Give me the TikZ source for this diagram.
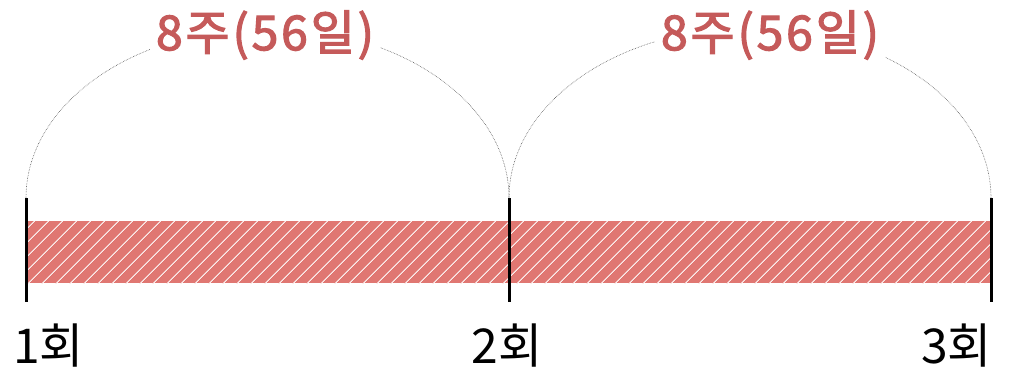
\documentclass[tikz,border=0pt]{standalone}
\usepackage{fontspec}
\newfontfamily\kr{Noto Sans CJK KR}
\newfontfamily\krmid[FakeBold=2.5, LetterSpace=6]{Noto Sans CJK KR}
\usepackage{tikz}
\usetikzlibrary{patterns.meta}
\definecolor{barred}{HTML}{E07772}
\definecolor{gapred}{HTML}{C55A5A}
\definecolor{spangray}{HTML}{555555}

\begin{document}
\begin{tikzpicture}[
  x=1pt, y=-1pt,
  tick/.style={line width=3pt, black},
  span/.style={densely dotted, line width=0.6pt, spangray},
  gap/.style={font=\krmid\fontsize{48}{48}\selectfont, text=gapred,
    fill=white, inner sep=6pt},
  dose/.style={font=\kr\fontsize{48}{48}\selectfont, inner sep=0pt},
  bar/.style={fill=barred, minimum width=965pt, minimum height=62pt,
    inner sep=0pt, postaction={pattern={Lines[angle=45, distance=10.5pt,
    line width=1.1pt]}, pattern color=white!85!barred}}
]
  \useasboundingbox (0,0) rectangle (1016,370);

  % Hatched interval bar
  \node[bar] (bar) at (508.5,252) {};

  % Dose ticks
  \foreach \x [count=\i] in {26,509,991} {
    \coordinate (t\i) at (\x,198);
    \coordinate (b\i) at (\x,302);
    \draw[tick] (t\i) -- (b\i);
  }

  % Interval arcs
  \draw[span] (t1) arc[start angle=180, end angle=360,
    x radius=241.5, y radius=170];
  \draw[span] (t2) arc[start angle=180, end angle=360,
    x radius=241, y radius=170];

  % Interval labels
  \node[gap] (g1) at (265,35) {8주(56일)};
  \node[gap] (g2) at (770,35) {8주(56일)};

  % Dose labels
  \node[dose, anchor=base west] (d1) at (13,363) {1회};
  \node[dose, anchor=base] (d2) at (507,363) {2회};
  \node[dose, anchor=base east] (d3) at (992,363) {3회};
\end{tikzpicture}
\end{document}
